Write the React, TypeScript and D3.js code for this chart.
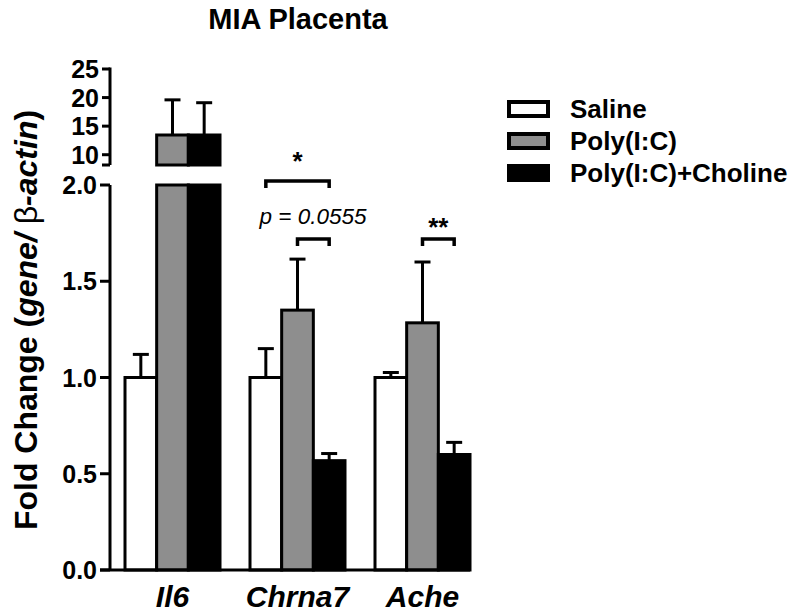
import React from "react";
import * as d3 from "d3";

const groups = ["Il6", "Chrna7", "Ache"];
const series = ["Saline", "Poly(I:C)", "Poly(I:C)+Choline"];
const saline = [1.0, 1.0, 1.0];
const salineErr = [1.12, 1.15, 1.026];
const polyIC = [13.45, 1.35, 1.284];
const polyICErr = [19.6, 1.615, 1.6];
const choline = [13.45, 0.568, 0.6];
const cholineErr = [19.1, 0.605, 0.663];
const lowTicks = [0, 0.5, 1.0, 1.5, 2.0];
const highTicks = [10, 15, 20, 25];

const fills = ["#ffffff", "#8e8e8e", "#000000"];
const FONT = "'Liberation Sans', Arial, Helvetica, sans-serif";

export default function App() {
  const W = 800, H = 616;
  const values = [saline, polyIC, choline];
  const errs = [salineErr, polyICErr, cholineErr];

  const axisX = 110;
  const yLow = d3.scaleLinear().domain([0, 2]).range([570, 185]);
  const yHigh = d3.scaleLinear().domain([8.2, 25]).range([165, 69]);
  const x0 = d3.scaleBand<string>().domain(groups).range([axisX, 485]).paddingInner(0.24).paddingOuter(0.12);
  const x1 = d3.scaleBand<string>().domain(series).range([0, x0.bandwidth()]).padding(0);

  const bars: JSX.Element[] = [];
  const errEls: JSX.Element[] = [];
  const capW = 16;
  groups.forEach((g, gi) => {
    series.forEach((s, si) => {
      const v = values[si][gi];
      const e = errs[si][gi];
      const bx = (x0(g) as number) + (x1(s) as number);
      const bw = x1.bandwidth();
      const cx = bx + bw / 2;
      if (v > 2) {
        bars.push(
          <rect key={`l${gi}${si}`} x={bx} y={yLow(2)} width={bw} height={yLow(0) - yLow(2)}
            fill={fills[si]} stroke="#000" strokeWidth={3} />
        );
        bars.push(
          <rect key={`h${gi}${si}`} x={bx} y={yHigh(v)} width={bw} height={yHigh(8.2) - yHigh(v)}
            fill={fills[si]} stroke="#000" strokeWidth={3} />
        );
        errEls.push(
          <g key={`e${gi}${si}`} stroke="#000" strokeWidth={3}>
            <line x1={cx} x2={cx} y1={yHigh(v)} y2={yHigh(e)} />
            <line x1={cx - capW / 2} x2={cx + capW / 2} y1={yHigh(e)} y2={yHigh(e)} />
          </g>
        );
      } else {
        bars.push(
          <rect key={`l${gi}${si}`} x={bx} y={yLow(v)} width={bw} height={yLow(0) - yLow(v)}
            fill={fills[si]} stroke="#000" strokeWidth={3} />
        );
        errEls.push(
          <g key={`e${gi}${si}`} stroke="#000" strokeWidth={3}>
            <line x1={cx} x2={cx} y1={yLow(v)} y2={yLow(e)} />
            <line x1={cx - capW / 2} x2={cx + capW / 2} y1={yLow(e)} y2={yLow(e)} />
          </g>
        );
      }
    });
  });

  const center = (g: string, s: string) => (x0(g) as number) + (x1(s) as number) + x1.bandwidth() / 2;
  const bracket = (xa: number, xb: number, y: number, key: string) => (
    <path key={key} d={`M${xa},${y + 7}V${y}H${xb}V${y + 7}`} fill="none" stroke="#000" strokeWidth={3.5} />
  );

  const lastBarEnd = (x0("Ache") as number) + x0.bandwidth();

  return (
    <svg width={W} height={H} style={{ display: "block", position: "absolute", left: 0, top: 0 }} fontFamily={FONT}>
      <rect width={W} height={H} fill="#fff" />
      <text x={298} y={29} textAnchor="middle" fontSize={29} fontWeight="bold">MIA Placenta</text>

      {bars}
      {errEls}

      <g stroke="#000" strokeWidth={3}>
        <line x1={axisX} x2={axisX} y1={yHigh(25) - 1.5} y2={yHigh(8.2)} />
        <line x1={axisX - 8} x2={axisX} y1={yHigh(8.2)} y2={yHigh(8.2)} />
        <line x1={axisX} x2={axisX} y1={yLow(2)} y2={yLow(0)} />
        <line x1={axisX - 10} x2={lastBarEnd} y1={yLow(0)} y2={yLow(0)} />
        {lowTicks.map((t) => (
          <line key={`lt${t}`} x1={axisX - 10} x2={axisX} y1={yLow(t)} y2={yLow(t)} />
        ))}
        {highTicks.map((t) => (
          <line key={`ht${t}`} x1={axisX - 8} x2={axisX} y1={yHigh(t)} y2={yHigh(t)} />
        ))}
      </g>
      <g fontSize={25} fontWeight="bold" textAnchor="end">
        {lowTicks.map((t) => (
          <text key={`ll${t}`} x={97} y={yLow(t)} dy="0.36em">{d3.format(".1f")(t)}</text>
        ))}
        {highTicks.map((t) => (
          <text key={`hl${t}`} x={99} y={yHigh(t)} dy="0.36em">{t}</text>
        ))}
      </g>

      <g fontSize={30} fontWeight="bold" fontStyle="italic" textAnchor="middle">
        {groups.map((g) => (
          <text key={g} x={(x0(g) as number) + x0.bandwidth() / 2} y={607}>{g}</text>
        ))}
      </g>

      <text transform="translate(37,320) rotate(-90)" textAnchor="middle" fontSize={32} fontWeight="bold">
        Fold Change (<tspan fontStyle="italic">gene/</tspan><tspan fontWeight="normal"> β</tspan><tspan fontStyle="italic">-actin</tspan>)
      </text>

      {bracket(center("Chrna7", "Saline"), center("Chrna7", "Poly(I:C)+Choline"), 181, "b1")}
      <text x={(center("Chrna7", "Saline") + center("Chrna7", "Poly(I:C)+Choline")) / 2} y={170} textAnchor="middle" fontSize={26} fontWeight="bold">*</text>
      <text x={313} y={224} textAnchor="middle" fontSize={22.5} fontStyle="italic">p = 0.0555</text>
      {bracket(center("Chrna7", "Poly(I:C)"), center("Chrna7", "Poly(I:C)+Choline"), 239, "b2")}
      {bracket(center("Ache", "Poly(I:C)"), center("Ache", "Poly(I:C)+Choline"), 239, "b3")}
      <text x={(center("Ache", "Poly(I:C)") + center("Ache", "Poly(I:C)+Choline")) / 2} y={236} textAnchor="middle" fontSize={26} fontWeight="bold">**</text>

      <g>
        {series.map((s, i) => (
          <g key={s} transform={`translate(0,${[109, 141, 173][i]})`}>
            <rect x={509} y={-7} width={39} height={14} fill={fills[i]} stroke="#000" strokeWidth={4} />
            <text x={570} y={0} dy="0.36em" fontSize={26} fontWeight="bold">{s}</text>
          </g>
        ))}
      </g>
    </svg>
  );
}
